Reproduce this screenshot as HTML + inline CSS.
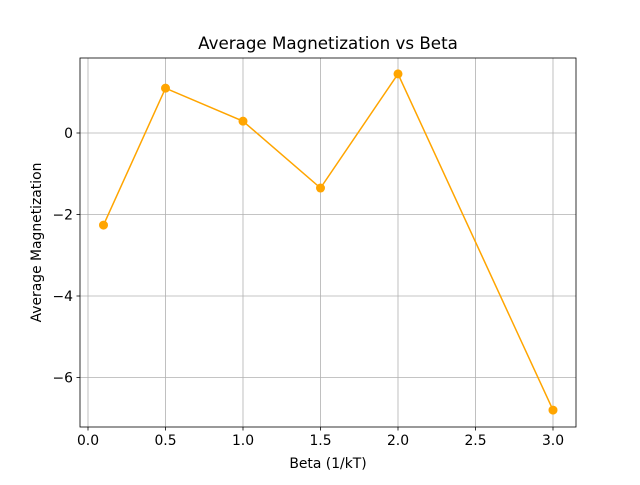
<!DOCTYPE html>
<html><head><meta charset="utf-8"><style>
body{margin:0;background:#fff}
text{font-family:"DejaVu Sans","Liberation Sans",sans-serif;fill:#000}
</style></head><body>
<svg id="chart" width="640" height="480" xmlns="http://www.w3.org/2000/svg">
<rect width="640" height="480" fill="#fff"/>
<g id="grid"></g>
<g id="ticks"></g>
<g id="series"></g>
<rect x="80" y="58" width="496" height="369" fill="none" stroke="#000" stroke-width="0.8"/>
<text x="328" y="49" font-size="16.7" text-anchor="middle">Average Magnetization vs Beta</text>
<text x="328" y="468" font-size="13.9" text-anchor="middle">Beta (1/kT)</text>
<text transform="translate(41,242.5) rotate(-90)" font-size="13.9" text-anchor="middle">Average Magnetization</text>
</svg>
<script>
const betas=[0.1,0.5,1.0,1.5,2.0,3.0];
const magnetization=[-2.26,1.10,0.29,-1.35,1.45,-6.80];
const xTicks=[0,0.5,1.0,1.5,2.0,2.5,3.0];
const xTickLabels=["0.0","0.5","1.0","1.5","2.0","2.5","3.0"];
const yTicks=[-6,-4,-2,0];
const yTickLabels=["\u22126","\u22124","\u22122","0"];
const NS="http://www.w3.org/2000/svg";
const xs=v=>88+v*155;
const ys=v=>133-v*40.75;
function mk(t,a,p){const e=document.createElementNS(NS,t);for(const k in a)e.setAttribute(k,a[k]);p.appendChild(e);return e;}
const grid=document.getElementById('grid'),ticks=document.getElementById('ticks'),series=document.getElementById('series');
xTicks.forEach((v,i)=>{const x=xs(v);
const g=mk('line',{x1:x,x2:x,y1:58,y2:427,stroke:'#b0b0b0','stroke-width':0.8},grid);


const t=mk('line',{x1:x,x2:x,y1:427,y2:430.5,stroke:'#000','stroke-width':0.8},ticks);


const l=mk('text',{x:x,y:445,'font-size':13.9,'text-anchor':'middle'},ticks);l.textContent=xTickLabels[i];

});
yTicks.forEach((v,i)=>{const y=ys(v);
const g=mk('line',{x1:80,x2:576,y1:y,y2:y,stroke:'#b0b0b0','stroke-width':0.8},grid);


const t=mk('line',{x1:76.5,x2:80,y1:y,y2:y,stroke:'#000','stroke-width':0.8},ticks);


const l=mk('text',{x:73,y:y+5,'font-size':13.9,'text-anchor':'end'},ticks);l.textContent=yTickLabels[i];

});
const pts=betas.map((b,i)=>xs(b)+','+ys(magnetization[i])).join(' ');
const line=mk('polyline',{points:pts,fill:'none',stroke:'#ffa500','stroke-width':1.5},series);


betas.forEach((b,i)=>{const c=mk('circle',{cx:xs(b),cy:ys(magnetization[i]),r:4.5,fill:'#ffa500'},series);

});
</script>
</body></html>
